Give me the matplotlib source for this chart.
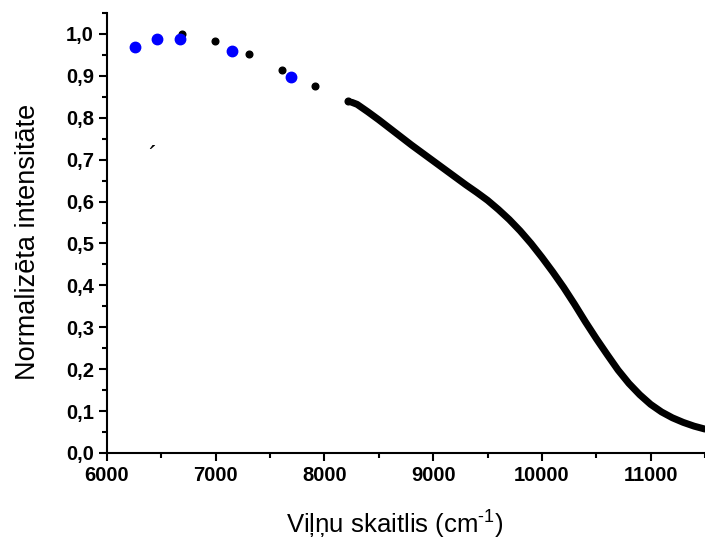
import matplotlib.pyplot as plt
from matplotlib.ticker import MultipleLocator, FuncFormatter

plt.rcParams['font.family'] = ['Liberation Sans', 'DejaVu Sans']
plt.rcParams['mathtext.fontset'] = 'custom'
plt.rcParams['mathtext.rm'] = 'Liberation Sans'
plt.rcParams['mathtext.it'] = 'Liberation Sans'

# sparse measured points (black)
black_x = [6688, 6994, 7303, 7606, 7914, 8220]
black_y = [0.999, 0.983, 0.953, 0.915, 0.876, 0.839]

# second set of measured points (blue)
blue_x = [6253, 6456, 6670, 7147, 7691]
blue_y = [0.969, 0.988, 0.988, 0.959, 0.898]

# dense spectrum part
dense_x = [8250, 8300, 8400, 8500, 8600, 8700, 8800, 8900, 9000, 9100,
           9200, 9300, 9400, 9500, 9600, 9700, 9800, 9900, 10000, 10100,
           10200, 10300, 10400, 10500, 10600, 10700, 10800, 10900, 11000,
           11100, 11200, 11300, 11400, 11500]
dense_y = [0.837, 0.832, 0.814, 0.795, 0.775, 0.755, 0.735, 0.716, 0.697, 0.678,
           0.659, 0.640, 0.622, 0.603, 0.581, 0.557, 0.530, 0.500, 0.467, 0.432,
           0.395, 0.355, 0.313, 0.273, 0.235, 0.198, 0.166, 0.139, 0.116,
           0.098, 0.084, 0.073, 0.064, 0.057]

fig = plt.figure(figsize=(7.05, 5.41), dpi=100)
ax = fig.add_axes([0.1518, 0.1627, 0.8482, 0.8133])

ax.plot(dense_x, dense_y, color='black', lw=5, solid_capstyle='round', zorder=2)
ax.plot(black_x, black_y, 'o', color='black', ms=4.8, zorder=3)
ax.plot(blue_x, blue_y, 'o', color='#0000ff', ms=7.5, zorder=4)

ax.set_xlim(6000, 11500)
ax.set_ylim(0, 1.05)

ax.xaxis.set_major_locator(MultipleLocator(1000))
ax.xaxis.set_minor_locator(MultipleLocator(500))
ax.yaxis.set_major_locator(MultipleLocator(0.1))
ax.yaxis.set_minor_locator(MultipleLocator(0.05))
ax.yaxis.set_major_formatter(FuncFormatter(lambda v, p: f"{v:.1f}".replace('.', ',')))

for side in ['top', 'right']:
    ax.spines[side].set_visible(False)
for side in ['left', 'bottom']:
    ax.spines[side].set_linewidth(1.5)

ax.tick_params(which='major', direction='out', length=6, width=1.5, labelsize=14.5)
ax.tick_params(which='minor', direction='out', length=3.5, width=1.5)
for lbl in ax.get_xticklabels() + ax.get_yticklabels():
    lbl.set_fontweight('bold')

ax.set_xlabel('Viļņu skaitlis (cm$^{\\text{-1}}$)', fontsize=18.5)
ax.set_ylabel('Normalizēta intensitāte', fontsize=19.5)
ax.xaxis.set_label_coords(0.482, -0.127)
ax.yaxis.set_label_coords(-0.110, 0.48)

fig.text(152 / 705, 1 - 157 / 541, '´', fontsize=18, ha='center', va='center')

fig.savefig('out.png', dpi=100)
